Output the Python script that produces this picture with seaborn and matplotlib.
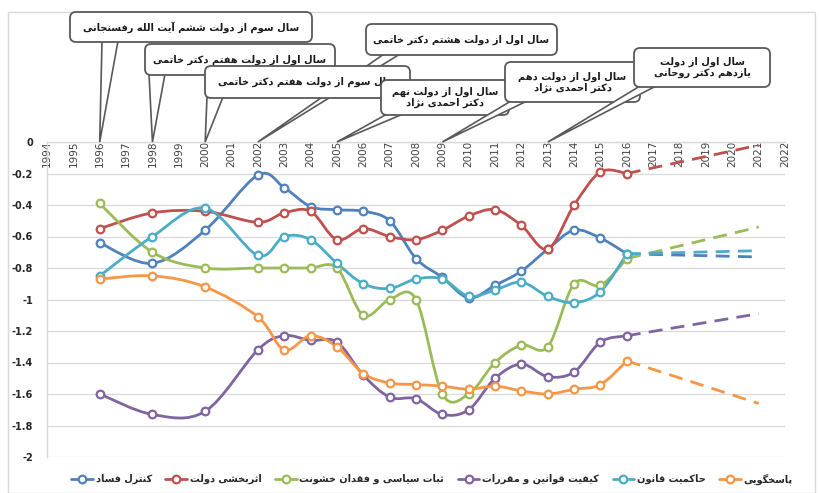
import numpy as np
import pandas as pd
import seaborn as sns
import matplotlib
matplotlib.use("Agg")
import matplotlib.pyplot as plt
from matplotlib.path import Path
from matplotlib.patches import PathPatch, FancyBboxPatch, Polygon, Rectangle
from matplotlib.lines import Line2D

# data
years = [1996, 1998, 2000, 2002, 2003, 2004, 2005, 2006, 2007,
         2008, 2009, 2010, 2011, 2012, 2013, 2014, 2015, 2016]
corruption = [-0.64, -0.77, -0.56, -0.21, -0.29, -0.41, -0.43, -0.44, -0.50,
              -0.74, -0.86, -0.99, -0.91, -0.82, -0.68, -0.56, -0.61, -0.71]
gov_effect = [-0.55, -0.45, -0.44, -0.51, -0.45, -0.44, -0.62, -0.55, -0.60,
              -0.62, -0.56, -0.47, -0.43, -0.53, -0.68, -0.40, -0.19, -0.20]
stability = [-0.39, -0.70, -0.80, -0.80, -0.80, -0.80, -0.80, -1.10, -1.00,
             -1.00, -1.60, -1.60, -1.40, -1.29, -1.30, -0.90, -0.91, -0.74]
regulatory = [-1.60, -1.73, -1.71, -1.32, -1.23, -1.26, -1.27, -1.48, -1.62,
              -1.63, -1.73, -1.70, -1.50, -1.41, -1.49, -1.46, -1.27, -1.23]
rule_of_law = [-0.85, -0.60, -0.42, -0.72, -0.60, -0.62, -0.77, -0.90, -0.93,
               -0.87, -0.87, -0.98, -0.94, -0.89, -0.98, -1.02, -0.95, -0.71]
voice = [-0.87, -0.85, -0.92, -1.11, -1.32, -1.23, -1.30, -1.47, -1.53,
         -1.54, -1.55, -1.57, -1.55, -1.58, -1.60, -1.57, -1.54, -1.39]
forecast_year = 2021
forecast = [-0.73, -0.02, -0.54, -1.09, -0.69, -1.66]

names = ["کنترل فساد", "اثربخشی دولت", "ثبات سیاسی و فقدان خشونت",
         "کیفیت قوانین و مقررات", "حاکمیت قانون", "پاسخگویی"]
colors = ["#4F81BD", "#C0504D", "#9BBB59", "#8064A2", "#4BACC6", "#F79646"]
axis_years = list(range(1994, 2023))
y_ticks = [0, -0.2, -0.4, -0.6, -0.8, -1, -1.2, -1.4, -1.6, -1.8, -2]

callout_years = [1996, 1998, 2000, 2002, 2005, 2009, 2013]
callout_texts = [
    "سال سوم از دولت ششم آیت الله رفسنجانی",
    "سال اول از دولت هفتم دکتر خاتمی",
    "سال سوم از دولت هفتم دکتر خاتمی",
    "سال اول از دولت هشتم دکتر خاتمی",
    "سال اول از دولت نهم\nدکتر احمدی نژاد",
    "سال اول از دولت دهم\nدکتر احمدی نژاد",
    "سال اول از دولت\nیازدهم دکتر روحانی",
]
# box left, top, right, bottom in pixels from the top-left corner
callout_boxes = [(70, 12, 312, 42), (145, 44, 335, 75), (205, 66, 410, 98),
                 (366, 24, 557, 55), (381, 80, 509, 115), (505, 62, 640, 102),
                 (634, 48, 770, 87)]
callout_base = [32, 4, 2, 18, 6, 6, 6]
callout_order = [0, 1, 3, 2, 4, 5, 6]

# matplotlib has no arabic shaping, so pick presentation forms by hand
FORMS = {
    'ا': ('\uFE8D', '\uFE8E', None, None), 'آ': ('\uFE81', '\uFE82', None, None),
    'ب': ('\uFE8F', '\uFE90', '\uFE91', '\uFE92'), 'پ': ('\uFB56', '\uFB57', '\uFB58', '\uFB59'),
    'ت': ('\uFE95', '\uFE96', '\uFE97', '\uFE98'), 'ث': ('\uFE99', '\uFE9A', '\uFE9B', '\uFE9C'),
    'ج': ('\uFE9D', '\uFE9E', '\uFE9F', '\uFEA0'), 'چ': ('\uFB7A', '\uFB7B', '\uFB7C', '\uFB7D'),
    'ح': ('\uFEA1', '\uFEA2', '\uFEA3', '\uFEA4'), 'خ': ('\uFEA5', '\uFEA6', '\uFEA7', '\uFEA8'),
    'د': ('\uFEA9', '\uFEAA', None, None), 'ذ': ('\uFEAB', '\uFEAC', None, None),
    'ر': ('\uFEAD', '\uFEAE', None, None), 'ز': ('\uFEAF', '\uFEB0', None, None),
    'ژ': ('\uFB8A', '\uFB8B', None, None),
    'س': ('\uFEB1', '\uFEB2', '\uFEB3', '\uFEB4'), 'ش': ('\uFEB5', '\uFEB6', '\uFEB7', '\uFEB8'),
    'ع': ('\uFEC9', '\uFECA', '\uFECB', '\uFECC'), 'ف': ('\uFED1', '\uFED2', '\uFED3', '\uFED4'),
    'ق': ('\uFED5', '\uFED6', '\uFED7', '\uFED8'), 'ک': ('\uFB8E', '\uFB8F', '\uFB90', '\uFB91'),
    'گ': ('\uFB92', '\uFB93', '\uFB94', '\uFB95'), 'ل': ('\uFEDD', '\uFEDE', '\uFEDF', '\uFEE0'),
    'م': ('\uFEE1', '\uFEE2', '\uFEE3', '\uFEE4'), 'ن': ('\uFEE5', '\uFEE6', '\uFEE7', '\uFEE8'),
    'ه': ('\uFEE9', '\uFEEA', '\uFEEB', '\uFEEC'), 'و': ('\uFEED', '\uFEEE', None, None),
    'ی': ('\uFBFC', '\uFBFD', '\uFBFE', '\uFBFF'),
}


def shape_line(s):
    out = []
    for i, c in enumerate(s):
        if c not in FORMS:
            out.append(c)
            continue
        prev = s[i - 1] if i > 0 else ''
        nxt = s[i + 1] if i + 1 < len(s) else ''
        after_join = prev in FORMS and FORMS[prev][2] is not None
        before_join = FORMS[c][2] is not None and nxt in FORMS
        iso, fin, ini, med = FORMS[c]
        if after_join and before_join:
            out.append(med)
        elif after_join:
            out.append(fin)
        elif before_join:
            out.append(ini)
        else:
            out.append(iso)
    return ''.join(reversed(out))


def fa(s):
    return '\n'.join(shape_line(line) for line in s.split('\n'))


def smooth_path(xs, ys):
    # excel style smoothed line (catmull-rom as bezier)
    pts = np.column_stack([xs, ys]).astype(float)
    n = len(pts)
    verts, codes = [pts[0]], [Path.MOVETO]
    for i in range(n - 1):
        p0 = pts[i - 1] if i > 0 else pts[i]
        p1, p2 = pts[i], pts[i + 1]
        p3 = pts[i + 2] if i + 2 < n else pts[i + 1]
        verts += [p1 + (p2 - p0) / 6, p2 - (p3 - p1) / 6, p2]
        codes += [Path.CURVE4] * 3
    return Path(verts, codes)


series = [corruption, gov_effect, stability, regulatory, rule_of_law, voice]
df = pd.concat([pd.DataFrame({"year": years, "value": vals, "indicator": name})
                for name, vals in zip(names, series)], ignore_index=True)

sns.set_theme(style="white")
plt.rcParams['font.family'] = ['DejaVu Sans']

W, H = 819, 493
fig = plt.figure(figsize=(W / 100, H / 100), dpi=100)
ax = fig.add_axes([47 / W, 1 - 457 / H, (785 - 47) / W, (457 - 142) / H])

for name, vals, c in zip(names, series, colors):
    ax.add_patch(PathPatch(smooth_path(years, vals), fill=False, ec=c, lw=2.0,
                           capstyle='round', joinstyle='round', zorder=3))
    sub = df[df["indicator"] == name]
    sns.lineplot(data=sub, x="year", y="value", ax=ax, color=c, linestyle='',
                 marker='o', markersize=5.5, markerfacecolor='white',
                 markeredgecolor=c, markeredgewidth=1.6, zorder=4)
    fc = pd.DataFrame({"year": [years[-1], forecast_year],
                       "value": [vals[-1], forecast[names.index(name)]]})
    sns.lineplot(data=fc, x="year", y="value", ax=ax, color=c, lw=2.0,
                 dashes=(5, 3), zorder=3)

ax.set_xlim(1994, 2022)
ax.set_ylim(-2, 0)
ax.set_xlabel("")
ax.set_ylabel("")
ax.set_yticks(y_ticks)
ax.set_yticklabels([f"{v:g}" for v in y_ticks])
ax.tick_params(axis='y', left=False, labelsize=7, labelcolor='#262626', pad=4)
for t in ax.get_yticklabels():
    t.set_fontweight('bold')
ax.grid(axis='y', color='#D9D9D9', lw=0.9)
ax.grid(axis='x', visible=False)

ax.set_xticks(axis_years)
ax.set_xticklabels([str(y) for y in axis_years])
ax.tick_params(axis='x', bottom=False, top=False, labelbottom=False, labeltop=True,
               labelrotation=90, pad=-5, labelsize=7.5, labelcolor='#404040')
for t in ax.xaxis.get_major_ticks():
    t.label2.set_verticalalignment('top')

for side in ['right', 'bottom']:
    ax.spines[side].set_visible(False)
for side in ['left', 'top']:
    ax.spines[side].set_color('#D9D9D9')
    ax.spines[side].set_linewidth(1.0)

# callouts
fig.canvas.draw()
for k, i in enumerate(callout_order):
    l, t, r, b = callout_boxes[i]
    z = 10 + 2 * k
    tip = ax.transData.transform((callout_years[i], 0))
    x0 = l + callout_base[i]
    base = [(x0, H - b + 1), (x0 + 16, H - b + 1)]
    fig.patches.append(Polygon([base[0], tuple(tip), base[1]], closed=True,
                               fc='white', ec='#595959', lw=1.2, transform=None,
                               figure=fig, zorder=z))
    fig.patches.append(FancyBboxPatch((l + 4, H - b + 4), r - l - 8, b - t - 8,
                                      boxstyle="round,pad=4,rounding_size=6",
                                      fc='white', ec='#595959', lw=1.3,
                                      transform=None, figure=fig, zorder=z + 1))
    fig.text((l + r) / 2 / W, 1 - (t + b) / 2 / H, fa(callout_texts[i]),
             ha='center', va='center', fontsize=7.1, fontweight='bold',
             color='#1a1a1a', linespacing=1.1, zorder=z + 1)

handles = [Line2D([], [], color=c, lw=2.0, marker='o', markersize=5.5,
                  markerfacecolor='white', markeredgecolor=c, markeredgewidth=1.6)
           for c in colors]
fig.legend(handles, [fa(n) for n in names], loc='center', ncol=6,
           bbox_to_anchor=(432 / W, 1 - 479 / H), frameon=False,
           prop={'size': 7, 'weight': 'bold'}, handlelength=2.2,
           handletextpad=0.3, columnspacing=1.4, labelcolor='#262626')

fig.patches.append(Rectangle((8, 0), W - 12, H - 12, fill=False, ec='#D9D9D9',
                             lw=1.0, transform=None, figure=fig))

fig.savefig("out.png", dpi=100)
